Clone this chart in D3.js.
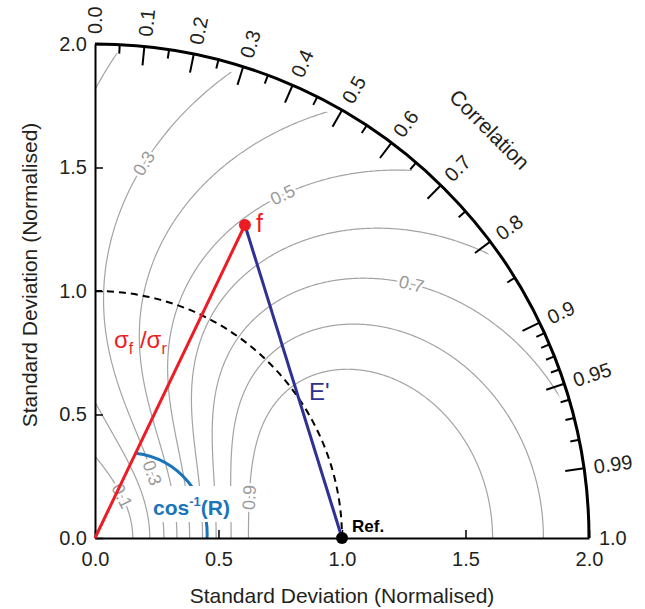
<!DOCTYPE html>
<html>
<head>
<meta charset="utf-8">
<script src="https://cdn.jsdelivr.net/npm/d3@7"></script>
<style>
  body { margin: 0; background: #fff; }
  text { font-family: "Liberation Sans", Arial, sans-serif; }
</style>
</head>
<body>
<div id="chart"></div>
<script>
var width = 645;
var height = 609;

// standard deviation axis
var stdTicks = [0, 0.5, 1.0, 1.5, 2.0];
var stdTickLabels = ["0.0", "0.5", "1.0", "1.5", "2.0"];
var stdMax = 2.0;

// correlation axis
var corrMajor = [0.1, 0.2, 0.3, 0.4, 0.5, 0.6, 0.7, 0.8, 0.9, 0.95, 0.99];
var corrMinor = [0.05, 0.15, 0.25, 0.35, 0.45, 0.55, 0.65, 0.75, 0.85,
                 0.91, 0.92, 0.93, 0.94, 0.96, 0.97, 0.98];
var corrLabels = [0.0, 0.1, 0.2, 0.3, 0.4, 0.5, 0.6, 0.7, 0.8, 0.9, 0.95, 0.99, 1.0];
var corrLabelText = ["0.0", "0.1", "0.2", "0.3", "0.4", "0.5", "0.6", "0.7", "0.8", "0.9", "0.95", "0.99", "1.0"];

// skill score contours
var skillLevels = [0.1, 0.2, 0.3, 0.4, 0.5, 0.6, 0.7, 0.8, 0.9];
var skillMaxCorr = 0.89;
var skillLabelLevels = [0.1, 0.3, 0.3, 0.5, 0.7, 0.9];
var skillLabelCorr = [0.54, 0.66, 0.13, 0.48, 0.78, 0.967];
var skillLabelBranch = ["inner", "inner", "outer", "outer", "outer", "inner"];

// reference and model
var refStd = 1.0;
var modelStd = 1.405;
var modelCorr = 0.432;

var x0 = 95, y0 = 538, unit = 247;

var xScale = d3.scaleLinear().domain([0, stdMax]).range([x0, x0 + unit * stdMax]);
var yScale = d3.scaleLinear().domain([0, stdMax]).range([y0, y0 - unit * stdMax]);

var svg = d3.select("#chart").append("svg")
  .attr("width", width)
  .attr("height", height);

var ink = "#231f20";

function polar(s, theta) {
  return { x: s * Math.cos(theta), y: s * Math.sin(theta) };
}

// std of the skill contour for a given level and correlation
function sigmaAt(level, R, branch) {
  var q = 2 * (1 + R) / ((1 + skillMaxCorr) * Math.sqrt(level));
  var d = Math.sqrt(Math.max(0, q * q - 4));
  return branch == "inner" ? (q - d) / 2 : (q + d) / 2;
}

var line = d3.line()
  .x(function(d) { return xScale(d.x); })
  .y(function(d) { return yScale(d.y); });

// clip contours inside the outer arc
svg.append("clipPath").attr("id", "inArc")
  .append("circle")
  .attr("cx", xScale(0)).attr("cy", yScale(0))
  .attr("r", xScale(1.965) - xScale(0));

var contourG = svg.append("g").attr("clip-path", "url(#inArc)");

skillLevels.forEach(function(level) {
  var rStar = Math.sqrt(level) * (1 + skillMaxCorr) - 1;
  var thMax = rStar > 0 ? Math.acos(rStar) : Math.PI / 2;
  var n = 400;
  var inner = [], outer = [];
  for (var i = 0; i <= n; i++) {
    var t = i / n;
    var th = thMax * (1 - (1 - t) * (1 - t));
    inner.push(polar(sigmaAt(level, Math.cos(th), "inner"), th));
    outer.push(polar(sigmaAt(level, Math.cos(th), "outer"), th));
  }
  var paths = rStar > 0 ? [inner.concat(outer.reverse())] : [inner, outer];
  paths.forEach(function(p) {
    contourG.append("path")
      .attr("d", line(p))
      .attr("fill", "none")
      .attr("stroke", "#a3a3a3")
      .attr("stroke-width", 1.2);
  });
});

// contour labels
skillLabelLevels.forEach(function(level, i) {
  var th = Math.acos(skillLabelCorr[i]);
  var br = skillLabelBranch[i];
  var p = polar(sigmaAt(level, Math.cos(th), br), th);
  var pa = polar(sigmaAt(level, Math.cos(th - 0.01), br), th - 0.01);
  var pb = polar(sigmaAt(level, Math.cos(th + 0.01), br), th + 0.01);
  var ang = Math.atan2(yScale(pb.y) - yScale(pa.y), xScale(pb.x) - xScale(pa.x)) * 180 / Math.PI;
  if (ang > 90) ang -= 180;
  if (ang <= -90) ang += 180;
  svg.append("text")
    .attr("transform", "translate(" + xScale(p.x) + "," + yScale(p.y) + ")rotate(" + ang + ")")
    .attr("text-anchor", "middle")
    .attr("dominant-baseline", "central")
    .attr("font-size", 18)
    .attr("fill", "#9a9a9a")
    .attr("stroke", "#fff")
    .attr("stroke-width", 5)
    .attr("paint-order", "stroke")
    .text(level.toFixed(1));
});

// cos^-1(R) annotation arc
var cosCenter = { x: 0.124, y: 0.016 };
var cosRadius = 0.33;
var cosStart = Math.atan2(0.3436 - cosCenter.y, 0.1646 - cosCenter.x);
var cosPath = d3.path();
cosPath.arc(xScale(cosCenter.x), yScale(cosCenter.y), xScale(cosRadius) - xScale(0),
  -cosStart, 0.06, false);
svg.append("path")
  .attr("d", cosPath.toString())
  .attr("fill", "none")
  .attr("stroke", "#1a75bb")
  .attr("stroke-width", 3);

svg.append("rect")
  .attr("x", 150).attr("y", 486)
  .attr("width", 88).attr("height", 36)
  .attr("fill", "#fff");

var cosText = svg.append("text")
  .attr("x", 153).attr("y", 515)
  .attr("font-size", 21)
  .attr("font-weight", "bold")
  .attr("fill", "#1a75bb");
cosText.append("tspan").text("cos");
cosText.append("tspan").attr("dy", -9).attr("font-size", 13).text("-1");
cosText.append("tspan").attr("dy", 9).text("(R)");

// dashed reference arc
var refArc = d3.path();
refArc.arc(xScale(0), yScale(0), xScale(refStd) - xScale(0), -Math.PI / 2, 0, false);
svg.append("path")
  .attr("d", refArc.toString())
  .attr("fill", "none")
  .attr("stroke", "#000")
  .attr("stroke-width", 2)
  .attr("stroke-dasharray", "7,5");

// outer correlation arc
var outer = d3.path();
outer.arc(xScale(0), yScale(0), xScale(stdMax) - xScale(0), -Math.PI / 2, 0, false);
svg.append("path")
  .attr("d", outer.toString())
  .attr("fill", "none")
  .attr("stroke", "#000")
  .attr("stroke-width", 3);

function corrTick(c, len) {
  var th = Math.acos(c);
  var a = polar(stdMax, th), b = polar(stdMax - len / unit, th);
  svg.append("line")
    .attr("x1", xScale(a.x)).attr("y1", yScale(a.y))
    .attr("x2", xScale(b.x)).attr("y2", yScale(b.y))
    .attr("stroke", "#000")
    .attr("stroke-width", 2);
}
corrMajor.forEach(function(c) { corrTick(c, 19); });
corrMinor.forEach(function(c) { corrTick(c, 9); });

corrLabels.forEach(function(c, i) {
  var th = Math.acos(c);
  var p = polar(2.04, th);
  svg.append("text")
    .attr("transform", "translate(" + xScale(p.x) + "," + yScale(p.y) + ")rotate(" + (-th * 180 / Math.PI) + ")")
    .attr("dominant-baseline", "central")
    .attr("font-size", 20)
    .attr("fill", ink)
    .text(corrLabelText[i]);
});

var cLab = polar(2.30, 46 * Math.PI / 180);
svg.append("text")
  .attr("transform", "translate(" + xScale(cLab.x) + "," + yScale(cLab.y) + ")rotate(45)")
  .attr("text-anchor", "middle")
  .attr("dominant-baseline", "central")
  .attr("font-size", 21)
  .attr("fill", ink)
  .text("Correlation");

// axes
var yAxis = d3.axisLeft(yScale)
  .tickValues(stdTicks)
  .tickFormat(function(d, i) { return stdTickLabels[i]; })
  .tickSizeInner(-8)
  .tickSizeOuter(0)
  .tickPadding(8);
var xAxis = d3.axisBottom(xScale)
  .tickValues(stdTicks)
  .tickFormat(function(d, i) { return stdTickLabels[i]; })
  .tickSizeInner(-8)
  .tickSizeOuter(0)
  .tickPadding(14);

var gy = svg.append("g").attr("transform", "translate(" + x0 + ",0)").call(yAxis);
var gx = svg.append("g").attr("transform", "translate(0," + y0 + ")").call(xAxis);
[gx, gy].forEach(function(g) {
  g.select(".domain").attr("stroke", "#000").attr("stroke-width", 2);
  g.selectAll(".tick line").attr("stroke", "#000").attr("stroke-width", 1.5);
  g.selectAll(".tick text")
    .attr("font-size", 20)
    .attr("font-family", "Liberation Sans, Arial, sans-serif")
    .attr("fill", ink);
});

svg.append("text")
  .attr("x", xScale(1.0)).attr("y", 603)
  .attr("text-anchor", "middle")
  .attr("font-size", 21)
  .attr("fill", ink)
  .text("Standard Deviation (Normalised)");

svg.append("text")
  .attr("transform", "translate(37,275)rotate(-90)")
  .attr("text-anchor", "middle")
  .attr("font-size", 21)
  .attr("fill", ink)
  .text("Standard Deviation (Normalised)");

// model vectors
var f = polar(modelStd, Math.acos(modelCorr));
var ref = polar(refStd, 0);

svg.append("line")
  .attr("x1", xScale(0)).attr("y1", yScale(0))
  .attr("x2", xScale(f.x)).attr("y2", yScale(f.y))
  .attr("stroke", "#ed1c24")
  .attr("stroke-width", 3);

svg.append("line")
  .attr("x1", xScale(f.x)).attr("y1", yScale(f.y))
  .attr("x2", xScale(ref.x)).attr("y2", yScale(ref.y))
  .attr("stroke", "#2e3192")
  .attr("stroke-width", 3);

svg.append("circle")
  .attr("cx", xScale(f.x)).attr("cy", yScale(f.y))
  .attr("r", 6)
  .attr("fill", "#ed1c24");

svg.append("circle")
  .attr("cx", xScale(ref.x)).attr("cy", yScale(ref.y))
  .attr("r", 6)
  .attr("fill", "#000");

svg.append("text")
  .attr("x", xScale(f.x) + 11).attr("y", yScale(f.y) + 7)
  .attr("font-size", 25)
  .attr("fill", "#ed1c24")
  .text("f");

svg.append("text")
  .attr("x", 309).attr("y", 400)
  .attr("font-size", 24)
  .attr("fill", "#2e3192")
  .text("E'");

var sig = svg.append("text")
  .attr("x", 114).attr("y", 348)
  .attr("font-size", 24)
  .attr("fill", "#ed1c24");
sig.append("tspan").text("σ");
sig.append("tspan").attr("dy", 6).attr("font-size", 16).text("f");
sig.append("tspan").attr("dy", -6).text(" /σ");
sig.append("tspan").attr("dy", 6).attr("font-size", 16).text("r");

svg.append("text")
  .attr("x", xScale(ref.x) + 10).attr("y", yScale(ref.y) - 6)
  .attr("font-size", 17)
  .attr("font-weight", "bold")
  .attr("fill", "#000")
  .text("Ref.");
</script>
</body>
</html>
